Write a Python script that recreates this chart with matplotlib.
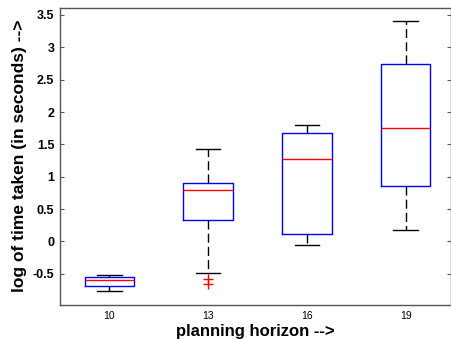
import matplotlib
matplotlib.use("Agg")
import matplotlib.pyplot as plt

plt.rcParams['font.family'] = ['Liberation Sans', 'DejaVu Sans']

horizons = ['10', '13', '16', '19']
whisker_low = [-0.768, -0.485, -0.063, 0.18]
q1 = [-0.697, 0.333, 0.117, 0.859]
median = [-0.598, 0.797, 1.276, 1.755]
q3 = [-0.55, 0.90, 1.68, 2.74]
whisker_high = [-0.516, 1.43, 1.796, 3.40]
outliers = [[], [-0.578, -0.655], [], []]

stats = []
for i, lab in enumerate(horizons):
    stats.append(dict(label=lab, whislo=whisker_low[i], q1=q1[i], med=median[i],
                      q3=q3[i], whishi=whisker_high[i], fliers=outliers[i]))

fig = plt.figure(figsize=(4.52, 3.39), dpi=100)
ax = fig.add_axes([60/452, (339-304.5)/339, (451-60)/452, (304.5-8)/339])

ax.bxp(stats, positions=[1, 2, 3, 4], widths=0.5, showfliers=True,
       boxprops=dict(color='#0000ff', linewidth=1.0),
       medianprops=dict(color='#ff0000', linewidth=1.0),
       whiskerprops=dict(color='black', linewidth=1.0, linestyle=(0, (6.5, 3))),
       capprops=dict(color='black', linewidth=1.0),
       capwidths=0.25,
       flierprops=dict(marker='+', markeredgecolor='#ff0000', markersize=7,
                       markeredgewidth=1.0, linestyle='none'))

ax.set_xlim(0.5, 4.46)
ax.set_ylim(-0.976, 3.608)
ax.set_yticks([-0.5, 0, 0.5, 1, 1.5, 2, 2.5, 3, 3.5])
ax.set_yticklabels(['-0.5', '0', '0.5', '1', '1.5', '2', '2.5', '3', '3.5'],
                   fontweight='bold', fontsize=9)
ax.set_xticks([1, 2, 3, 4])
ax.set_xticklabels(horizons, fontsize=7.5)
ax.tick_params(axis='y', direction='in', length=3, right=True, left=True,
               color='#555555', pad=4)
ax.tick_params(axis='x', length=0, pad=5)
for s in ax.spines.values():
    s.set_color('#555555')
    s.set_linewidth(1.0)

ax.set_xlabel('planning horizon -->', fontweight='bold', fontsize=12, labelpad=1.5)
ax.set_ylabel('log of time taken (in seconds) -->', fontweight='bold', fontsize=12.5,
              labelpad=4)

fig.savefig('out.png', dpi=100)
